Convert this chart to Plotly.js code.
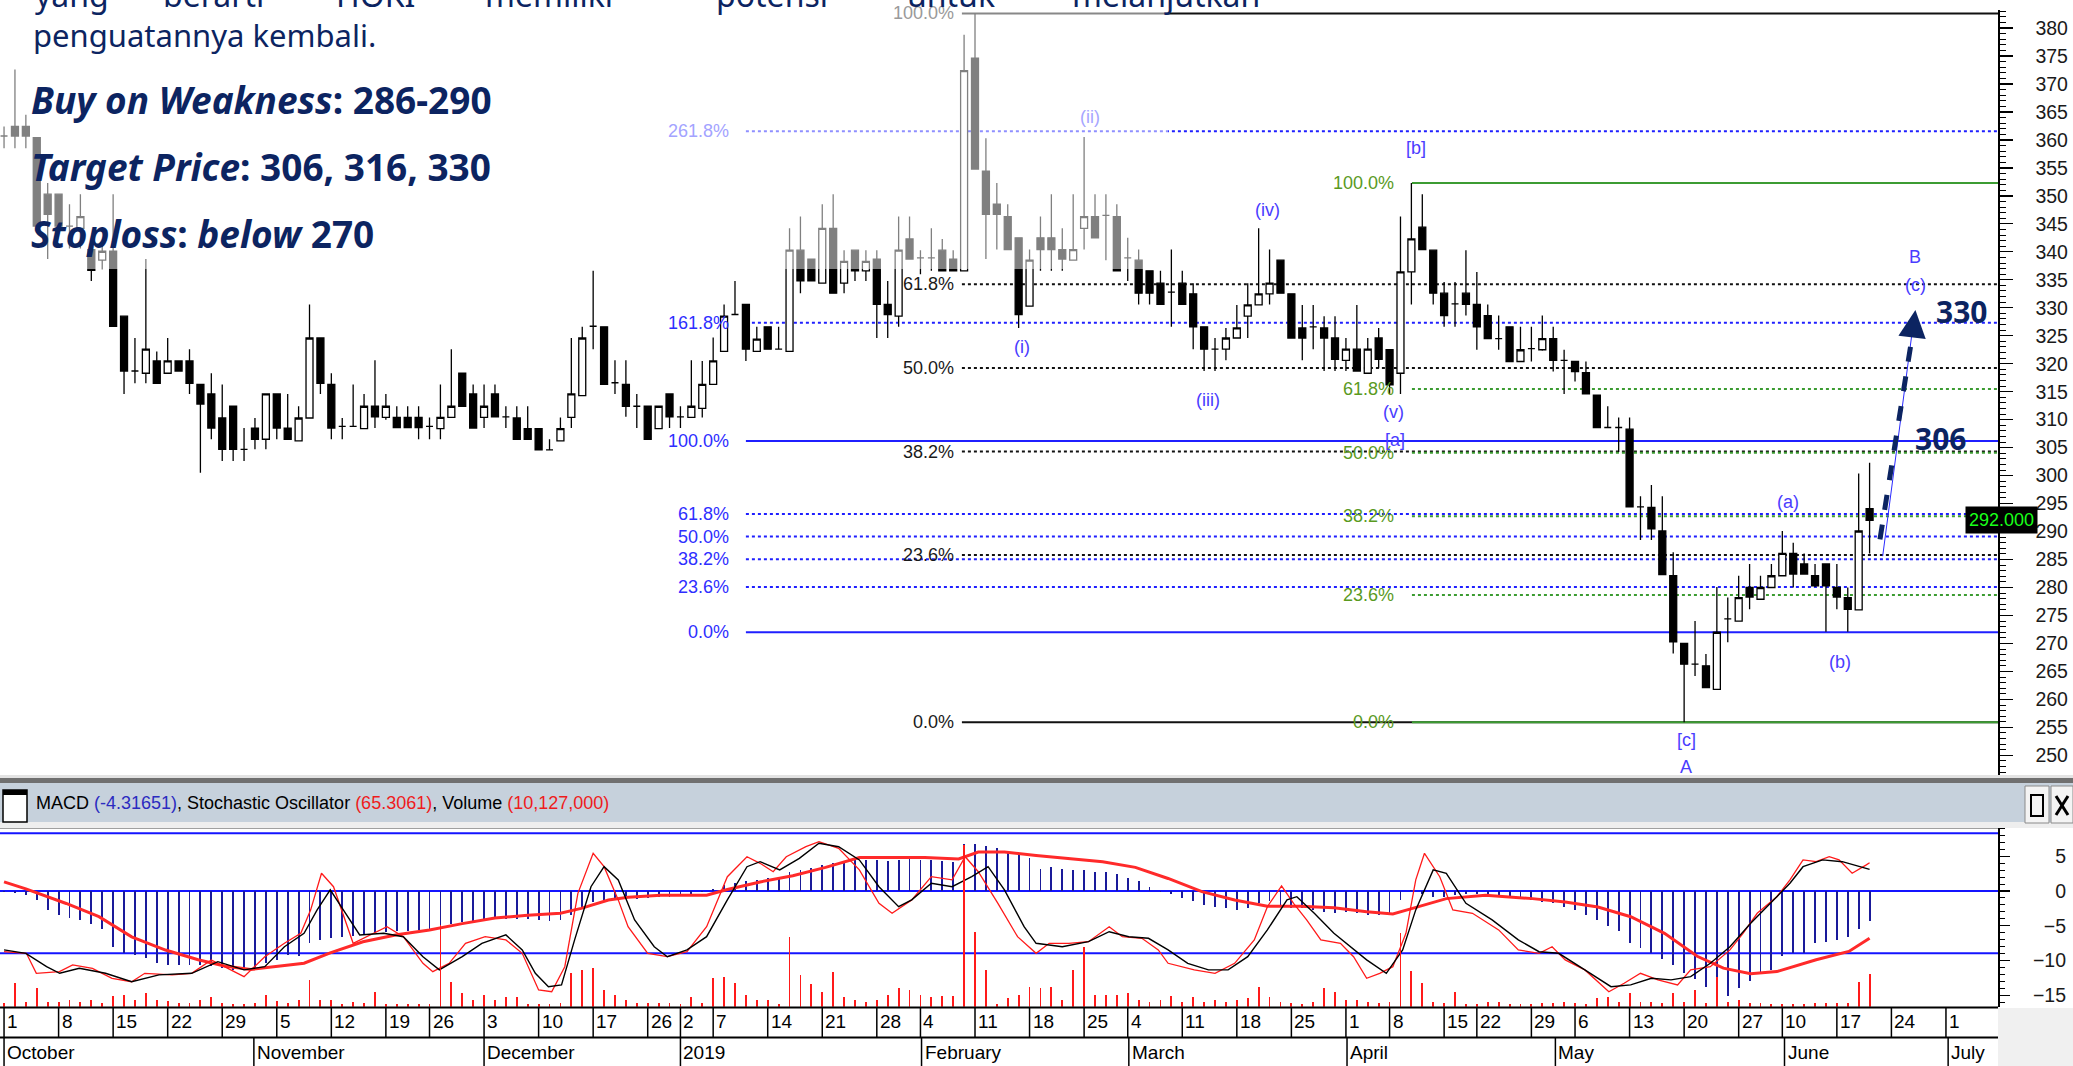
<!DOCTYPE html>
<html><head><meta charset="utf-8">
<script src="https://cdn.plot.ly/plotly-3.0.1.min.js"></script>
<style>html,body{margin:0;padding:0;background:#fff;overflow:hidden}#chart{width:2073px;height:1066px}</style>
</head><body><div id="chart"></div>
<script>
// ---------------- DATA ----------------
// trading-day index 0 = 1 Oct 2018 ... 171 = 20 Jun 2019
const openP = [360.7,362.4,362.4,360.4,350.3,350.3,344.6,344.2,340.4,338.5,
340.1,328.5,318.7,318.3,320.5,318.3,320.5,320.5,316.3,314.6,
310.3,312.4,304.7,308.5,306.5,314.6,308.5,306.2,310.3,324.6,
316.3,308.8,308.8,308.4,312.4,310.4,310.4,310.4,310.4,308.8,
308.4,310.4,318.3,314.6,310.4,314.6,310.5,310.3,308.4,308.4,
304.6,306.2,310.4,314.3,326.7,326.6,316.6,316.3,312.4,312.4,
308.4,314.6,310.5,310.4,312.0,316.3,322.2,328.8,330.6,322.2,
326.6,322.6,322.2,340.3,338.7,334.4,344.2,334.4,340.3,336.6,
338.7,330.6,328.5,342.3,338.9,338.9,340.3,338.7,336.6,374.6,
354.4,348.5,346.3,342.5,330.3,342.5,342.5,340.4,338.5,344.2,
346.3,346.5,346.3,338.9,338.5,336.6,334.4,332.8,334.4,332.5,
326.6,322.6,322.6,324.6,328.5,330.5,332.5,338.5,332.5,326.4,
326.6,326.4,324.6,320.6,322.6,318.3,324.6,322.5,318.3,336.4,
344.4,340.3,332.6,330.7,332.6,330.6,328.6,324.5,326.6,320.4,
322.7,322.5,324.5,320.6,320.4,318.4,314.4,308.6,308.6,308.3,
294.4,294.3,290.1,282.1,270.0,266.3,266.0,261.8,274.4,274.0,
280.0,277.9,280.0,282.1,286.1,284.2,282.1,284.2,280.0,278.2,
276.0,294.1];
const highP = [362.4,372.6,364.5,360.4,352.3,350.3,348.5,350.3,340.6,341.9,
350.3,328.5,324.6,338.7,322.2,324.6,320.5,322.6,316.3,318.3,
316.3,312.4,308.5,310.3,314.6,314.6,314.6,312.4,330.6,324.6,
318.3,310.3,316.3,314.6,320.6,314.6,312.4,312.4,312.4,310.4,
316.3,322.6,318.3,316.3,316.3,316.3,312.4,312.4,312.4,308.4,
306.5,310.4,324.6,326.6,336.6,326.6,320.6,320.6,314.6,312.4,
312.4,314.6,312.4,320.6,320.5,324.7,330.6,334.8,330.6,326.6,
326.6,326.6,344.2,346.3,338.7,348.5,350.3,340.3,340.3,340.3,
340.3,334.8,346.3,346.3,340.3,344.2,342.3,340.3,378.8,382.6,
360.3,352.3,348.5,342.5,340.4,346.3,350.3,344.2,350.3,360.5,
350.3,350.3,348.5,342.5,340.4,336.6,336.6,340.4,336.6,334.4,
326.6,324.6,326.4,330.5,334.4,344.2,340.4,338.5,332.5,330.5,
330.5,328.5,328.5,324.6,330.5,324.6,326.4,322.5,346.3,352.3,
350.3,340.3,334.6,334.6,340.3,336.4,330.6,328.6,326.6,326.6,
326.6,328.6,326.6,322.5,320.4,320.4,314.4,312.4,310.4,310.4,
296.3,298.3,296.3,286.3,270.0,274.0,268.1,280.1,278.2,282.1,
284.2,282.1,284.2,290.1,288.0,286.1,284.2,284.2,284.2,280.0,
300.4,302.3];
const lowP = [358.5,358.5,358.5,343.5,338.7,344.6,340.6,340.6,334.8,336.9,
326.7,314.6,316.5,316.5,316.5,318.3,318.7,314.6,300.5,306.5,
302.6,302.6,302.6,304.7,304.7,306.5,306.5,306.2,310.3,314.6,
306.5,306.5,308.8,308.4,308.5,310.0,308.6,308.6,306.5,306.5,
306.5,310.4,312.4,308.5,308.5,310.4,308.5,306.5,306.5,304.6,
304.6,306.2,308.5,314.3,322.6,316.3,314.6,310.5,308.5,306.5,
308.4,308.5,308.5,310.4,310.4,316.3,322.2,328.8,320.5,322.2,
322.6,322.6,322.2,332.6,334.8,334.4,332.6,332.6,334.8,334.8,
324.6,324.6,326.6,338.7,336.0,336.6,336.6,336.6,336.6,354.8,
338.7,340.4,340.4,326.4,330.3,336.6,336.6,336.6,338.5,340.4,
342.5,338.5,336.6,334.8,330.6,330.6,330.6,326.6,330.6,322.6,
318.7,318.7,320.6,324.6,324.6,330.5,330.6,332.6,324.6,320.6,
322.6,318.7,318.7,318.7,318.7,318.3,319.2,314.6,314.6,330.6,
340.4,330.6,326.6,326.6,328.6,322.5,324.4,322.5,320.4,320.4,
320.4,322.3,318.6,314.6,316.8,314.6,308.6,308.6,304.2,294.4,
288.5,288.5,282.3,268.2,255.9,264.2,262.1,261.8,270.2,274.0,
276.1,277.9,280.0,282.1,280.0,282.4,280.1,272.1,276.1,272.1,
276.0,286.1];
const closeP = [360.7,360.7,360.7,344.6,346.7,344.6,344.6,346.3,336.7,340.1,
326.7,318.7,318.7,322.6,316.5,320.5,318.7,316.5,312.8,308.5,
304.7,304.7,304.7,306.5,314.6,308.5,306.5,310.3,324.6,316.5,
308.5,308.8,308.8,312.4,310.5,312.4,308.6,308.6,308.6,308.8,
310.4,312.4,312.4,308.5,312.4,310.5,310.5,306.5,306.5,304.6,
304.6,308.4,314.6,324.6,326.7,316.3,316.6,312.4,312.4,306.5,
312.4,310.5,310.5,312.4,316.3,320.5,328.5,328.8,322.6,324.4,
322.6,322.6,340.3,334.8,334.8,344.2,332.6,338.3,336.6,338.3,
330.6,328.8,340.3,338.7,338.9,338.9,336.6,336.6,372.4,354.8,
346.7,346.7,340.4,328.8,338.5,340.4,340.4,338.7,340.4,346.3,
342.5,346.5,336.6,338.9,332.6,332.6,330.6,332.8,330.6,326.6,
322.6,322.6,324.6,326.4,330.5,332.5,334.4,332.6,324.6,324.6,
326.6,324.6,320.8,322.6,318.7,322.6,320.8,316.2,336.4,342.3,
340.4,332.6,328.6,330.7,330.6,326.6,324.5,324.5,320.4,322.5,
322.7,324.5,320.6,320.6,318.6,314.6,308.6,308.6,308.6,294.4,
294.4,290.5,282.3,270.3,266.3,266.3,262.1,272.0,274.4,278.2,
278.3,280.0,282.1,286.1,282.4,282.4,280.3,280.3,278.3,276.1,
290.1,292.0];
// volume, millions
const volumeM = [1.0,7.4,1.5,5.6,1.5,1.5,2.0,1.5,2.2,1.0,
3.3,3.6,2.2,4.1,2.0,1.8,1.0,1.0,2.2,3.1,
1.0,0.8,0.8,1.0,3.6,1.8,1.0,2.0,8.2,2.0,
2.0,0.8,1.5,1.0,4.6,0.8,0.8,0.8,0.8,0.8,
25.0,7.7,4.1,2.0,3.6,2.2,2.9,2.9,0.8,0.8,
0.8,1.0,10.2,11.2,11.8,5.1,3.6,2.0,1.2,1.0,
1.0,1.0,0.8,2.9,1.0,8.7,9.2,7.2,3.6,2.0,
2.0,0.8,21.5,9.7,6.9,4.6,10.7,3.1,2.0,1.5,
2.0,3.6,5.6,5.1,3.6,3.1,3.3,3.3,49.6,23.0,
11.2,0.8,2.6,3.6,6.1,5.6,6.1,2.0,11.2,18.4,
3.6,3.6,3.6,4.1,2.2,1.5,2.0,3.3,1.5,2.9,
1.5,2.2,1.5,2.2,2.6,6.1,3.1,1.5,1.0,0.8,
1.5,5.6,4.6,2.2,2.0,1.5,1.0,1.5,22.5,11.0,
7.2,1.5,1.0,4.6,0.8,0.8,1.5,1.5,0.8,0.8,
0.8,1.0,1.0,1.5,1.0,0.8,2.6,3.1,1.5,4.3,
1.5,1.5,1.0,4.1,1.5,5.1,1.0,9.2,1.5,2.2,
1.0,1.0,0.8,0.8,0.8,0.8,1.0,1.0,1.2,1.2,
7.7,10.127];
const macdVal = [-0.1,-0.3,-0.6,-1.3,-2.7,-3.5,-3.9,-4.2,-4.7,-5.4,
-8.0,-8.9,-9.2,-9.7,-10.4,-10.6,-10.6,-10.6,-10.6,-10.8,
-11.1,-11.3,-11.3,-11.1,-10.4,-9.9,-9.2,-9.4,-7.5,-7.0,
-6.8,-6.6,-6.5,-6.3,-6.0,-5.9,-5.8,-5.7,-5.6,-5.6,
-5.3,-4.8,-4.5,-4.5,-4.3,-4.1,-4.0,-4.0,-4.1,-4.2,
-4.3,-4.2,-3.5,-2.5,-1.6,-1.4,-1.3,-1.2,-1.1,-1.0,
-0.9,-0.8,-0.7,-0.5,-0.2,0.3,0.8,1.2,1.4,1.6,
1.8,2.0,2.7,3.0,3.3,3.8,4.0,4.2,4.4,4.5,
4.4,4.3,4.5,4.6,4.5,4.4,4.3,4.2,6.8,6.8,
6.5,6.2,5.8,5.2,4.8,3.2,3.4,3.2,3.0,3.0,
2.8,2.7,2.5,1.8,1.4,0.6,-0.2,-0.4,-1.0,-1.5,
-2.0,-2.3,-2.5,-2.8,-2.4,-1.8,-1.5,-2.0,-2.4,-2.5,
-2.8,-3.0,-3.1,-3.0,-3.2,-3.5,-3.5,-3.2,-1.3,0.1,
-0.5,-0.8,-0.8,-0.6,-0.4,-0.5,-0.7,-0.9,-1.0,-1.2,
-1.3,-1.6,-1.8,-2.3,-2.8,-3.5,-4.2,-5.0,-5.8,-7.5,
-8.2,-8.9,-9.8,-10.6,-11.8,-12.7,-13.8,-14.6,-15.1,-13.9,
-13.0,-11.8,-11.3,-9.4,-8.9,-8.9,-7.5,-7.3,-7.0,-6.6,
-5.4,-4.3];
const signalX = [0,2,5.7,8.7,11.7,14.8,17.8,20.2,22.6,25.1,27.5,29.9,32.9,36,39,42,45,48,51,52.9,55.4,57.2,60.2,64.4,66.3,69.3,72.3,75.3,78.4,81.4,84.4,87.5,89.3,91.7,94.6,100.7,103.7,106.7,109.8,112.8,115.8,118.8,121.9,124.9,127.3,129.1,132.2,135.8,140.1,143.1,146.1,149.1,152.2,155.2,157.6,160.1,162.5,166.1,169.1,171];
const signalY = [1.3,0.3,-1.8,-3.7,-6.6,-8.5,-9.9,-10.8,-11.3,-10.8,-10.4,-8.9,-7.3,-6.3,-5.6,-4.7,-3.9,-3.5,-3.2,-2.5,-1.3,-0.9,-0.6,-0.6,0.2,1.3,2.2,3.4,4.8,4.8,4.8,4.6,5.6,5.6,5.1,4.2,3.4,1.8,-0.1,-1.3,-2.2,-2.2,-2.4,-3.0,-3.3,-2.5,-1.1,-0.6,-1.1,-1.6,-2.3,-3.7,-6.1,-9.4,-11.1,-11.9,-11.6,-9.9,-8.7,-6.8];
const stochKX = [0,2.05,2.96,5.08,6.29,8.1,9.9,11.7,12.9,15.4,17.2,19.0,20.2,22.0,23.9,25.7,27.2,28.1,29.1,30.2,32.0,33.2,35.1,36.6,38.4,39.3,40.8,42.3,44.1,46,47.5,49,50.2,51.4,52.6,54,55,56.3,57.2,59,60.8,62.6,64.4,66.3,68.1,69.3,70.5,71.7,73.5,74.7,76.5,78.4,80.2,81.4,83.2,85,86.9,88.1,89.3,91.1,92.9,94.6,
95.8,97.6,99.4,101.3,102.5,104.3,105.8,106.7,109.1,111,112.8,114.6,115.8,117.1,118.2,119.4,120.7,122.5,123.7,124.9,126.1,127.3,128.5,129.4,130.2,131.6,132.8,134.6,137,138.8,140.7,141.9,143.1,144.9,147.1,148.5,150,151.6,153.4,154.6,156.4,158.2,159.4,160.7,162.5,163.7,164.9,166.1,167.3,168.2,169.4,170.7,171];
const stochKY = [20.8,20,10,10.8,14.2,12.5,7.5,5.8,10,9.2,10,16.7,13.3,8.3,18.3,25,30,41.6,60,53.3,25,28.3,33.3,28.3,15,10.8,15,25,28.3,26.7,20,1.7,0.8,13.3,50,70,63.3,46.7,33.3,20,18.3,20.8,33.3,58.3,68.3,65,60.8,68.3,73.3,75.8,72.5,61.7,45,40,46.7,58.3,56.7,68.3,60.8,45,28.3,20,
25,25,25.8,33.3,28.3,27.5,21.7,15,11.7,10,15,26.7,43.3,53.7,45,36.7,26.7,25,18.3,7.5,10,13.3,30,56.7,70,58.3,41.7,40,31.7,21.7,20,23.3,16.7,11.7,0.8,5,10,6.7,4.2,11.7,13.3,21.7,30,40,48.3,56.7,66.7,65.8,68.3,66.7,60,64.2,65.3];
const stochDX = [0,2,3.9,5.1,6.9,9.3,11.7,14.2,17.2,19.6,22,23.9,25.7,27.5,28.7,29.9,31.1,32.6,34.8,36.6,38.4,39.9,42,43.8,46,47.5,48.7,49.9,51.1,52.3,53.8,55,56.3,57.8,59.6,60.8,62.6,64.4,66.3,68.1,69.3,71.1,72.9,74.7,76.5,78.4,80.2,82,83.2,85,86.9,88.7,90.2,91.7,93.5,94.6,
97,99.4,101.3,103.1,104.9,106.7,108.5,110.4,112.2,114,115.8,117.6,118.5,120.1,121.9,123.4,124.9,126.7,128.2,129.4,131,132.2,134,136.4,138.8,140.7,142.5,144.9,147.3,149.1,151,152.8,154.6,156.4,158.2,160.1,161.9,163.7,164.9,166.7,168.5,170.7,171];
const stochDY = [21.7,20,13.3,10,12.5,10,5.8,9.2,10,15.8,11.7,13.3,23.3,30,41.7,51.7,41.7,29.2,30,28.3,18.3,11.7,18.3,25,29.2,21.7,10,3.3,4.2,26.7,53.3,63.3,56.7,36.7,23.3,18.3,21.7,28.3,46.7,63.3,65.8,61.7,67.5,75,73.3,66.7,53.3,43.3,46.7,55,53.3,58.3,63.3,51.7,33.3,25,
23.3,25.8,30.8,28.3,27.5,21.7,15,11.7,11.7,18.3,31.7,46.7,48.3,40,30,23.3,16.7,10,21.7,41.7,61.7,60,45,36.7,26.7,20.8,20,11.7,3.3,4.2,7.5,6.7,8.3,15,23.3,35,45,55,63.3,66.7,65.8,62.5,62];

// date axis labels
const dayLabels = ['1','8','15','22','29','5','12','19','26','3','10','17','26','2','7','14','21','28','4','11','18','25','4','11','18','25','1','8','15','22','29','6','13','20','27','10','17','24','1'];
const dayPos = [0,5,10,15,20,25,30,35,39,44,49,54,59,62,65,70,75,80,84,89,94,99,103,108,113,118,123,127,132,135,140,144,149,154,159,163,168,173,178];
const monthLabels = ['October','November','December','2019','February','March','April','May','June','July'];
const monthPos = [0,22.9,44,62,84.1,103.1,123.1,142.2,163.2,178.2];

// Fibonacci retracement anchors (price)
const fibPct = [0,23.6,38.2,50,61.8,100];
const blueFibPct = [0,23.6,38.2,50,61.8,100,161.8,261.8];
const blueFib = {low:272.0, high:306.2, start:68.0, labelX:66.6};
const blackFib = {low:255.9, high:382.6, start:87.8, labelX:87.3};
const greenFib = {low:255.9, high:352.3, start:129.05, labelX:127.6};

// Elliott wave labels
const waveText = ['(i)','(ii)','(iii)','(iv)','(v)','[a]','[b]','[c]','A','(a)','(b)','B','(c)'];
const waveX = [93.3,99.5,110.4,115.8,127.4,127.5,129.4,154.2,154.2,163.5,168.3,175.2,175.2];
const waveP = [323.0,364.1,313.5,347.5,311.4,306.4,358.6,252.7,248.0,295.3,266.7,339.1,334.1];

// targets
const targetText = ['330','306'];
const targetX = [179.4,177.5];
const targetP = [329.4,306.7];
const arrowFrom = {x:171.95, p:288.6};
const arrowTo = {x:175.2, p:329.6};

// ---------------- LAYOUT HELPERS ----------------
const W = 2073, H = 1066;
const pxX = v => v / W;
const pxY = v => 1 - v / H;
const XR = [-0.37, 182.77];
const xDomEnd = 1998 / W;
const PR = [246.49, 383.22];
const priceToPx = p => 28 + (380 - p) * 5.595;
const idxToPx = i => 4 + i * 10.91;
const NAVY = '#0c2461';
const FONT = 'Liberation Sans, Arial, sans-serif';
const TFONT = 'Noto Sans, Open Sans, sans-serif';
const idx = closeP.map((_, i) => i);

const traces = [];
traces.push({type:'candlestick', x: idx, open: openP, high: highP, low: lowP, close: closeP,
  xaxis:'x', yaxis:'y', whiskerwidth:0, hoverinfo:'skip',
  increasing:{line:{color:'#000', width:1.3}, fillcolor:'#ffffff'},
  decreasing:{line:{color:'#000', width:1.3}, fillcolor:'#000000'}});
traces.push({type:'bar', x: idx, y: volumeM, xaxis:'x2', yaxis:'y4', width:0.17, marker:{color:'#ff1a1a', line:{width:0}}, hoverinfo:'skip'});
traces.push({type:'bar', x: idx, y: macdVal, xaxis:'x2', yaxis:'y2', width:0.17, marker:{color:'#1a1a9a', line:{width:0}}, hoverinfo:'skip'});
traces.push({type:'scatter', mode:'lines', x: signalX, y: signalY, xaxis:'x2', yaxis:'y2', line:{color:'#ff2a2a', width:3}, hoverinfo:'skip'});
traces.push({type:'scatter', mode:'lines', x: stochKX, y: stochKY, xaxis:'x2', yaxis:'y3', line:{color:'#ff1a1a', width:1.3}, hoverinfo:'skip'});
traces.push({type:'scatter', mode:'lines', x: stochDX, y: stochDY, xaxis:'x2', yaxis:'y3', line:{color:'#000', width:1.4}, hoverinfo:'skip'});

const shapes = [];
const ann = [];

function fibSet(f, pcts, lineColor, labelColor, fadedColor) {
  pcts.forEach(pc => {
    const price = f.low + pc / 100 * (f.high - f.low);
    const solid = (pc === 0 || pc === 100);
    shapes.push({type:'line', xref:'x', yref:'y', x0:f.start, x1:XR[1], y0:price, y1:price, layer:'below',
      line:{color:lineColor, width:2, dash: solid ? 'solid' : 'dot'}});
    const faded = priceToPx(price) < 269 && idxToPx(f.labelX) < 1168;
    ann.push({xref:'x', yref:'y', x:f.labelX, y:price, xanchor:'right', yanchor:'middle', showarrow:false,
      text: pc.toFixed(1) + '%', font:{family:FONT, size:18, color: faded ? fadedColor : labelColor}});
  });
}
fibSet(blueFib, blueFibPct, '#1f1fff', '#2e2eff', '#a3a3ff');
fibSet(blackFib, fibPct, '#111111', '#1a1a1a', '#9a9a9a');
fibSet(greenFib, fibPct, '#3c9c32', '#5a9a1e', '#9acb8a');

// white translucent text box over the top-left of the price panel
shapes.push({type:'rect', xref:'paper', yref:'paper', x0:0, x1:pxX(1168), y0:pxY(269), y1:1, layer:'above',
  fillcolor:'rgba(255,255,255,0.5)', line:{width:0}});

// arrow to target
shapes.push({type:'line', xref:'x', yref:'y', x0:arrowFrom.x + 0.25, y0:arrowFrom.p - 3, x1:arrowTo.x - 0.1, y1:arrowTo.p - 1,
  line:{color:'#2a2aff', width:1}});
shapes.push({type:'line', xref:'x', yref:'y', x0:arrowFrom.x, y0:arrowFrom.p, x1:arrowTo.x - 0.2, y1:arrowTo.p - 3.5,
  line:{color:NAVY, width:5, dash:'dash'}});
ann.push({xref:'x', yref:'y', axref:'x', ayref:'y', x:arrowTo.x, y:arrowTo.p, ax:arrowTo.x - 0.25, ay:arrowTo.p - 4,
  showarrow:true, arrowhead:2, arrowsize:1.1, arrowwidth:5, arrowcolor:NAVY, text:''});

// Elliott labels
waveText.forEach((t, k) => {
  const faded = priceToPx(waveP[k]) < 269 && idxToPx(waveX[k]) < 1168;
  ann.push({xref:'x', yref:'y', x:waveX[k], y:waveP[k], showarrow:false, text:t,
    font:{family:FONT, size:18, color: faded ? '#a6a6ff' : '#4a3cff'}});
});
// target labels
targetText.forEach((t, k) => ann.push({xref:'x', yref:'y', x:targetX[k], y:targetP[k], showarrow:false, text:'<b>'+t+'</b>',
  font:{family:TFONT, size:30, color:NAVY}}));

// last price tag
ann.push({xref:'paper', yref:'y', x:pxX(2038), y:closeP[closeP.length-1], showarrow:false,
  text: closeP[closeP.length-1].toFixed(3), bgcolor:'#000', borderpad:3,
  font:{family:FONT, size:18, color:'#19ff19'}});

// article text
const artWords = ['yang','berarti','HOKI','memiliki','potensi','untuk','melanjutkan'];
const artWordX = [33,161,334,483,714,905,1070];
artWords.forEach((w, k) => ann.push({xref:'paper', yref:'paper', x:pxX(artWordX[k]), y:pxY(-6), xanchor:'left', yanchor:'middle',
  showarrow:false, text:w, font:{family:TFONT, size:32, color:NAVY}}));
ann.push({xref:'paper', yref:'paper', x:pxX(31), y:pxY(35), xanchor:'left', yanchor:'middle', showarrow:false,
  text:'penguatannya kembali.', font:{family:TFONT, size:31, color:NAVY}});
const tradeLines = ['<b><i>Buy on Weakness</i>: 286-290</b>', '<b><i>Target Price</i>: 306, 316, 330</b>', '<b><i>Stoploss</i>: <i>below</i> 270</b>'];
const tradeLineY = [100, 167, 234];
tradeLines.forEach((t, k) => ann.push({xref:'paper', yref:'paper', x:pxX(29), y:pxY(tradeLineY[k]), xanchor:'left', yanchor:'middle',
  showarrow:false, text:t, font:{family:TFONT, size:37, color:NAVY}}));

// ---- indicator header band ----
shapes.push({type:'rect', xref:'paper', yref:'paper', x0:0, x1:1, y0:pxY(778), y1:pxY(775), fillcolor:'#e3e3e3', line:{width:0}});
shapes.push({type:'rect', xref:'paper', yref:'paper', x0:0, x1:1, y0:pxY(783), y1:pxY(778), fillcolor:'#707070', line:{width:0}});
shapes.push({type:'rect', xref:'paper', yref:'paper', x0:0, x1:1, y0:pxY(822), y1:pxY(783), fillcolor:'#c6d1dc', line:{width:0}});
shapes.push({type:'rect', xref:'paper', yref:'paper', x0:0, x1:1, y0:pxY(828), y1:pxY(822), fillcolor:'#eeeeee', line:{width:0}});
shapes.push({type:'rect', xref:'paper', yref:'paper', x0:pxX(3), x1:pxX(27), y0:pxY(822), y1:pxY(790), fillcolor:'#ffffff', line:{color:'#000', width:1.5}});
shapes.push({type:'rect', xref:'paper', yref:'paper', x0:pxX(3), x1:pxX(27), y0:pxY(795), y1:pxY(790), fillcolor:'#000', line:{width:0}});
// window buttons
shapes.push({type:'rect', xref:'paper', yref:'paper', x0:pxX(2025), x1:pxX(2049), y0:pxY(823), y1:pxY(786), fillcolor:'#f4f4f4', line:{color:'#8a8a8a', width:1}});
shapes.push({type:'rect', xref:'paper', yref:'paper', x0:pxX(2031), x1:pxX(2043), y0:pxY(816), y1:pxY(795), fillcolor:'rgba(0,0,0,0)', line:{color:'#000', width:2}});
shapes.push({type:'rect', xref:'paper', yref:'paper', x0:pxX(2051), x1:pxX(2073), y0:pxY(823), y1:pxY(786), fillcolor:'#f4f4f4', line:{color:'#8a8a8a', width:1}});
shapes.push({type:'line', xref:'paper', yref:'paper', x0:pxX(2056), x1:pxX(2068), y0:pxY(796), y1:pxY(815), line:{color:'#000', width:3}});
shapes.push({type:'line', xref:'paper', yref:'paper', x0:pxX(2068), x1:pxX(2056), y0:pxY(796), y1:pxY(815), line:{color:'#000', width:3}});
ann.push({xref:'paper', yref:'paper', x:pxX(34), y:pxY(803), xanchor:'left', yanchor:'middle', showarrow:false,
  text:'MACD <span style="color:#2b2bc0">(-4.31651)</span>, Stochastic Oscillator <span style="color:#ee1c1c">(65.3061)</span>, Volume <span style="color:#ee1c1c">(10,127,000)</span>',
  font:{family:FONT, size:18, color:'#000'}});

// ---- indicator panel lines ----
shapes.push({type:'line', xref:'paper', yref:'paper', x0:0, x1:xDomEnd, y0:pxY(828.5), y1:pxY(828.5), line:{color:'#a0a0a0', width:1}});
shapes.push({type:'line', xref:'paper', yref:'y3', x0:0, x1:xDomEnd, y0:80, y1:80, layer:'below', line:{color:'#1414ff', width:2}});
shapes.push({type:'line', xref:'paper', yref:'y3', x0:0, x1:xDomEnd, y0:20, y1:20, layer:'below', line:{color:'#1414ff', width:2}});
shapes.push({type:'line', xref:'paper', yref:'y2', x0:0, x1:xDomEnd, y0:0, y1:0, layer:'below', line:{color:'#1414ff', width:2}});

// ---- date axis ----
shapes.push({type:'rect', xref:'paper', yref:'paper', x0:xDomEnd, x1:1, y0:0, y1:pxY(1008), fillcolor:'#f0f0f0', line:{width:0}});
shapes.push({type:'line', xref:'paper', yref:'paper', x0:0, x1:xDomEnd, y0:pxY(1007.5), y1:pxY(1007.5), line:{color:'#000', width:2}});
shapes.push({type:'line', xref:'paper', yref:'paper', x0:0, x1:xDomEnd, y0:pxY(1037.5), y1:pxY(1037.5), line:{color:'#000', width:2}});
dayPos.forEach((d, k) => {
  shapes.push({type:'line', xref:'x2', yref:'paper', x0:d, x1:d, y0:pxY(1037.5), y1:pxY(1007.5), line:{color:'#000', width:1.5}});
  ann.push({xref:'x2', yref:'paper', x:d, y:pxY(1022), xanchor:'left', yanchor:'middle', xshift:1, showarrow:false,
    text:dayLabels[k], font:{family:FONT, size:19, color:'#000'}});
});
monthPos.forEach((d, k) => {
  shapes.push({type:'line', xref:'x2', yref:'paper', x0:d, x1:d, y0:0, y1:pxY(1037.5), line:{color:'#000', width:1.5}});
  ann.push({xref:'x2', yref:'paper', x:d, y:pxY(1052), xanchor:'left', yanchor:'middle', xshift:1, showarrow:false,
    text:monthLabels[k], font:{family:FONT, size:19, color:'#000'}});
});

const layout = {
  width: W, height: H, margin:{l:0, r:0, t:0, b:0, pad:0},
  paper_bgcolor:'#ffffff', plot_bgcolor:'rgba(0,0,0,0)', showlegend:false,
  boxgap:0.2, boxgroupgap:0.2, bargap:0, barmode:'overlay',
  font:{family:FONT, size:18, color:'#111'},
  xaxis:{domain:[0, xDomEnd], range:XR, anchor:'y', showticklabels:false, showgrid:false, zeroline:false, showline:false, ticks:'', rangeslider:{visible:false}, fixedrange:true},
  yaxis:{domain:[pxY(775), pxY(10)], range:PR, anchor:'x', side:'right', showgrid:false, zeroline:false,
    showline:true, linecolor:'#000', linewidth:1.5, ticks:'outside', ticklen:13, tickwidth:1.3, tickcolor:'#000',
    tickmode:'linear', tick0:250, dtick:5, ticklabelstandoff:19, tickfont:{family:FONT, size:19.5, color:'#1a1a1a'},
    minor:{tickmode:'linear', tick0:250, dtick:1, ticks:'outside', ticklen:6, tickwidth:1, tickcolor:'#000'}, fixedrange:true},
  xaxis2:{domain:[0, xDomEnd], range:XR, anchor:'y2', showticklabels:false, showgrid:false, zeroline:false, showline:false, ticks:'', fixedrange:true},
  yaxis2:{domain:[pxY(1006.7), pxY(828)], range:[-16.65, 9.06], anchor:'x2', side:'right', showgrid:false, zeroline:false,
    showline:true, linecolor:'#000', linewidth:1.5, ticks:'outside', ticklen:10, tickwidth:1.3, tickcolor:'#000',
    tickmode:'linear', tick0:0, dtick:5, showticklabels:false,
    minor:{tickmode:'linear', tick0:0, dtick:1, ticks:'outside', ticklen:5, tickwidth:1, tickcolor:'#000'}, fixedrange:true},
  yaxis3:{overlaying:'y2', anchor:'x2', range:[-6.7, 82.65], visible:false, fixedrange:true},
  yaxis4:{overlaying:'y2', anchor:'x2', range:[0, 54.8], visible:false, fixedrange:true},
  yaxis5:{overlaying:'y2', anchor:'free', position:pxX(2069), side:'right', range:[-16.65, 9.06], showgrid:false, zeroline:false,
    showline:false, ticks:'', tickmode:'linear', tick0:0, dtick:5, ticklabelposition:'inside',
    tickfont:{family:FONT, size:19.5, color:'#1a1a1a'}, fixedrange:true},
  shapes: shapes, annotations: ann
};
// invisible trace to activate the label axis of the indicator panel
traces.push({type:'scatter', mode:'markers', x:[XR[0]], y:[0], xaxis:'x2', yaxis:'y5', marker:{opacity:0}, hoverinfo:'skip'});

Plotly.newPlot('chart', traces, layout, {staticPlot:true, displayModeBar:false});
</script></body></html>
